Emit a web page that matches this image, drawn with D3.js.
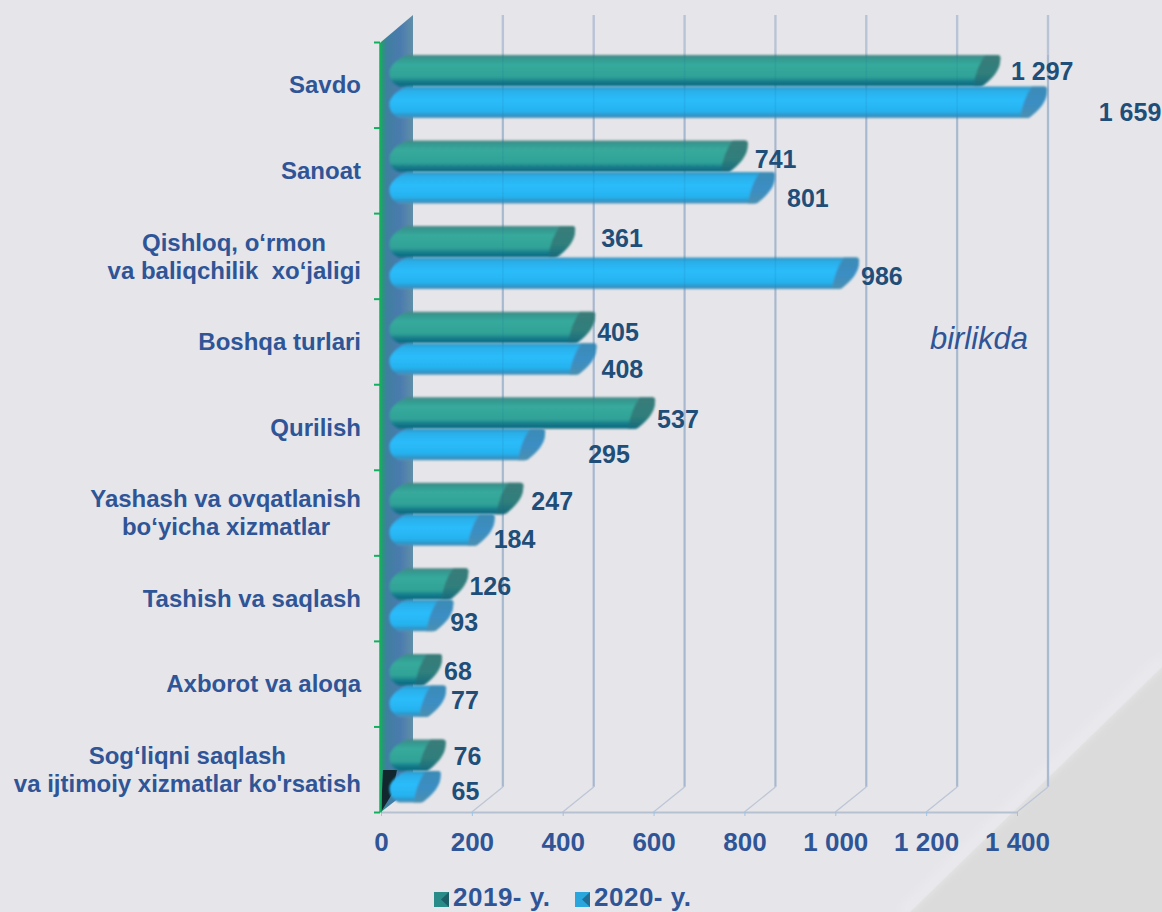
<!DOCTYPE html>
<html lang="en">
<head>
<meta charset="UTF-8">
<title>Birlikda</title>
<script src="https://cdnjs.cloudflare.com/ajax/libs/d3/7.8.5/d3.min.js"></script>
<style>
  html, body { margin: 0; padding: 0; background: #e6e6ea; }
  svg { display: block; font-family: "Liberation Sans", Arial, sans-serif; }
  text { white-space: pre; }
</style>
</head>
<body>
<div id="chart"></div>
<script>
// chart values
const categories = ["Savdo", "Sanoat", "Qishloq", "Boshqa", "Qurilish", "Yashash", "Tashish", "Axborot", "Sog"];
const categoryLines = [
  ["Savdo"],
  ["Sanoat"],
  ["Qishloq, o‘rmon", "va baliqchilik  xo‘jaligi"],
  ["Boshqa turlari"],
  ["Qurilish"],
  ["Yashash va ovqatlanish", "bo‘yicha xizmatlar"],
  ["Tashish va saqlash"],
  ["Axborot va aloqa"],
  ["Sog‘liqni saqlash", "va ijtimoiy xizmatlar ko'rsatish"]
];
const values2019 = [1297, 741, 361, 405, 537, 247, 126, 68, 76];
const values2020 = [1659, 801, 986, 408, 295, 184, 93, 77, 65];
const xTicks = [0, 200, 400, 600, 800, 1000, 1200, 1400];
const seriesNames = ["2019- y.", "2020- y."];

// hand placed data labels (the original has them dragged around), px from bar tip / band centre
const nudge2019 = [[42, -14], [28, -11], [47, -18], [23, -9], [23, -8], [29, -12], [22, -12], [16, -13], [22, -13]];
const nudge2020 = [[83, 27], [33, 28], [23, 20], [26, 28], [64, 27], [20, 26], [11, 24], [19, 16], [25, 22]];
// right indent for each line of the category labels
const lineIndent = [[0], [0], [35, 0], [0], [0], [0, 31], [0], [0], [75, 0]];

const width = 1162, height = 912;
const plotLeft = 381, plotRight = 1017, plotTop = 42, plotBottom = 812;
const depthX = 30, depthY = 26;
const axisBlue = "#2f5597", valueBlue = "#1f4e79";

const svg = d3.select("#chart").append("svg")
  .attr("width", width)
  .attr("height", height);

const x = d3.scaleLinear().domain([0, 1400]).range([plotLeft, plotRight]).clamp(true);
const y = d3.scaleBand().domain(categories).range([plotTop, plotBottom]);
const yInner = d3.scaleBand().domain([0, 1]).range([13, 76]);

const defs = svg.append("defs");

function vGradient(id, stops) {
  const g = defs.append("linearGradient").attr("id", id)
    .attr("x1", 0).attr("x2", 0).attr("y1", 0).attr("y2", 1);
  stops.forEach(s => g.append("stop").attr("offset", s[0]).attr("stop-color", s[1]));
}
vGradient("green-body", [[0, "#4d8584"], [0.08, "#35968f"], [0.3, "#37aa9c"], [0.7, "#30a297"], [0.86, "#13778a"], [1, "#0c6a7e"]]);
vGradient("blue-body", [[0, "#3591bd"], [0.12, "#29aee8"], [0.42, "#2bbcfb"], [0.78, "#27b3f0"], [0.93, "#2f93c4"], [1, "#5a93b5"]]);
vGradient("green-cap", [[0, "#3a7c79"], [0.6, "#2f7f7c"], [1, "#14697c"]]);
vGradient("blue-cap", [[0, "#3c8bb5"], [0.5, "#3a8ec4"], [1, "#4a8fb0"]]);

const wallGrad = defs.append("linearGradient").attr("id", "wall")
  .attr("x1", 0).attr("x2", 1).attr("y1", 0).attr("y2", 0);
wallGrad.append("stop").attr("offset", 0).attr("stop-color", "#1fa06a");
wallGrad.append("stop").attr("offset", 0.18).attr("stop-color", "#3f7fa0");
wallGrad.append("stop").attr("offset", 0.6).attr("stop-color", "#4a7bae");
wallGrad.append("stop").attr("offset", 1).attr("stop-color", "#5f8fa8");

defs.append("filter").attr("id", "soft").append("feGaussianBlur").attr("stdDeviation", 0.9);
defs.append("filter").attr("id", "softer").append("feGaussianBlur").attr("stdDeviation", 5);

// background with the grey corner
svg.append("rect").attr("width", width).attr("height", height).attr("fill", "#e6e6ea");
svg.append("path")
  .attr("d", "M1162,667L910,912L1162,912Z")
  .attr("fill", "#dbdbdb");
svg.append("path")
  .attr("d", "M1162,660L903,912")
  .attr("stroke", "#ebebef").attr("stroke-width", 8).attr("fill", "none")
  .attr("filter", "url(#softer)");

// gridlines on back wall + floor
const grid = svg.append("g").attr("fill", "none");
grid.selectAll(".back")
  .data(xTicks.slice(1))
  .join("line")
  .attr("class", "back")
  .attr("x1", d => x(d) + depthX + 1).attr("x2", d => x(d) + depthX + 1)
  .attr("y1", plotBottom - depthY + 1).attr("y2", plotTop - 27)
  .attr("stroke", "#b9c3d6")
  .attr("stroke-width", 2.4);
grid.selectAll(".floor")
  .data(xTicks.slice(1))
  .join("line")
  .attr("class", "floor")
  .attr("x1", d => x(d)).attr("x2", d => x(d) + depthX + 1)
  .attr("y1", plotBottom).attr("y2", plotBottom - depthY + 1)
  .attr("stroke", "#bcc6d6")
  .attr("stroke-width", 1.3);

// left wall
svg.append("path")
  .attr("d", `M${plotLeft},${plotTop}L${plotLeft + 32},${plotTop - 27}L${plotLeft + 32},${plotBottom - 25}L${plotLeft},${plotBottom}Z`)
  .attr("fill", "url(#wall)");
svg.append("path")
  .attr("d", `M${plotLeft + 2},${plotBottom - 42}L${plotLeft + 16},${plotBottom - 42}L${plotLeft + 11},${plotBottom - 18}L${plotLeft},${plotBottom}Z`)
  .attr("fill", "#12262e");

// x axis
const xAxis = d3.axisBottom(x)
  .tickValues(xTicks)
  .tickSize(4)
  .tickSizeOuter(0)
  .tickPadding(17)
  .tickFormat(d => d3.format(",")(d).replace(",", " "));
const xg = svg.append("g")
  .attr("transform", `translate(0,${plotBottom})`)
  .call(xAxis);
xg.select(".domain").attr("stroke", "#b5c0d0").attr("stroke-width", 2);
xg.selectAll(".tick line").attr("stroke", "#9cc3e6");
xg.selectAll(".tick text")
  .attr("fill", axisBlue)
  .attr("font-size", 26)
  .attr("font-weight", "bold")
  .attr("font-family", "Liberation Sans");

// y axis, ticks sit between the categories
const yEdges = d3.scaleLinear().domain([0, categories.length]).range([plotTop, plotBottom]);
const yg = svg.append("g")
  .attr("transform", `translate(${plotLeft - 1},0)`)
  .call(d3.axisLeft(yEdges).ticks(categories.length).tickSize(6).tickSizeOuter(0).tickFormat(""));
yg.select(".domain").attr("stroke", "#12b05e").attr("stroke-width", 2.5);
yg.selectAll(".tick line").attr("stroke", "#12b05e").attr("stroke-width", 2);

// cylinder bars
function barRightEdge(x1, t, b) {
  return `L${x1 + 27},${t}Q${x1 + 31},${t} ${x1 + 30},${t + 5}` +
    `C${x1 + 30},${t + 15} ${x1 + 22},${b - 8} ${x1 + 13},${b - 1}Q${x1 + 12},${b} ${x1 + 9},${b}`;
}
function barOutline(x1, t, b) {
  const x0 = plotLeft;
  return `M${x0 + 26},${t}` + barRightEdge(x1, t, b) +
    `L${x0 + 18},${b}C${x0 + 10},${b - 3} ${x0 + 7},${t + 20} ${x0 + 9},${t + 14}Q${x0 + 13},${t + 5} ${x0 + 26},${t}Z`;
}
function barCap(x1, t, b) {
  return `M${x1 + 15},${t}` + barRightEdge(x1, t, b) +
    `L${x1 + 3},${b}Q${x1 + 6},${t + 12} ${x1 + 15},${t}Z`;
}

[values2019, values2020].forEach((values, s) => {
  const name = s === 0 ? "green" : "blue";
  const g = svg.append("g").attr("filter", "url(#soft)");
  const bars = g.selectAll("g")
    .data(values)
    .join("g");
  bars.append("path")
    .attr("d", (d, i) => {
      const t = y(categories[i]) + yInner(s);
      return barOutline(x(d), t, t + yInner.bandwidth());
    })
    .attr("fill", `url(#${name}-body)`);
  bars.append("path")
    .attr("d", (d, i) => {
      const t = y(categories[i]) + yInner(s);
      return barCap(x(d), t, t + yInner.bandwidth());
    })
    .attr("fill", `url(#${name}-cap)`);
});

// grid shows faintly through the bars
svg.append("g").selectAll("line")
  .data(xTicks.slice(1))
  .join("line")
  .attr("x1", d => x(d) + depthX + 1).attr("x2", d => x(d) + depthX + 1)
  .attr("y1", plotTop + 13).attr("y2", plotBottom - depthY)
  .attr("stroke", "#1c6f9a")
  .attr("stroke-opacity", 0.12)
  .attr("stroke-width", 1.5);

// data labels
[[values2019, nudge2019], [values2020, nudge2020]].forEach(([values, nudge]) => {
  svg.append("g").selectAll("text")
    .data(values)
    .join("text")
    .attr("x", (d, i) => x(d) + depthX + nudge[i][0])
    .attr("y", (d, i) => y(categories[i]) + y.bandwidth() / 2 + nudge[i][1])
    .attr("dy", "0.36em")
    .attr("text-anchor", "middle")
    .attr("fill", valueBlue)
    .attr("font-size", 25)
    .attr("font-weight", "bold")
    .text(d => d3.format(",")(d).replace(",", " "));
});

// category labels
const catLabels = svg.append("g").selectAll("g")
  .data(categoryLines)
  .join("g");
catLabels.each(function(lines, i) {
  const cy = y(categories[i]) + y.bandwidth() / 2;
  d3.select(this).selectAll("text")
    .data(lines)
    .join("text")
    .attr("x", (d, j) => 361 - lineIndent[i][j])
    .attr("y", (d, j) => cy + (j - (lines.length - 1) / 2) * 28)
    .attr("dy", "0.36em")
    .attr("text-anchor", "end")
    .attr("fill", axisBlue)
    .attr("font-size", 24)
    .attr("font-weight", "bold")
    .text(d => d);
});

// unit note
svg.append("text")
  .attr("x", 979).attr("y", 338)
  .attr("dy", "0.36em")
  .attr("text-anchor", "middle")
  .attr("fill", axisBlue)
  .attr("font-size", 31)
  .attr("font-style", "italic")
  .text("birlikda");

// legend
const legendX = [434, 575];
const swatch = [["#2a8c88", "#1d5f66"], ["#2ba6dd", "#1f6f96"]];
const legend = svg.append("g").selectAll("g")
  .data(seriesNames)
  .join("g")
  .attr("transform", (d, i) => `translate(${legendX[i]},892)`);
legend.append("rect").attr("width", 15).attr("height", 15)
  .attr("fill", (d, i) => swatch[i][0]);
legend.append("path").attr("d", "M15,0L15,15L7,7.5Z")
  .attr("fill", (d, i) => swatch[i][1]);
legend.append("text")
  .attr("x", 19).attr("y", 14)
  .attr("fill", axisBlue)
  .attr("font-size", 26)
  .attr("letter-spacing", "0.5")
  .attr("font-weight", "bold")
  .text(d => d);
</script>
</body>
</html>
